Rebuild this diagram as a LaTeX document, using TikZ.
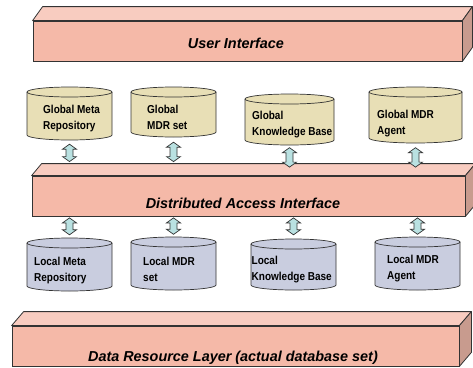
\documentclass[tikz,border=0pt]{standalone}
\usepackage{fontspec}
\setmainfont{Liberation Sans}
\newfontfamily\cylfont[FakeStretch=0.87]{Liberation Sans}
\usetikzlibrary{calc}
\definecolor{barfront}{HTML}{F5B9A8}
\definecolor{bartop}{HTML}{F8CCC0}
\definecolor{barside}{HTML}{C89B8E}
\definecolor{globfill}{HTML}{E8DFB6}
\definecolor{locfill}{HTML}{C9CDDF}
\definecolor{arrfill}{HTML}{B9E1E1}
\definecolor{edge}{HTML}{333333}
\tikzset{
  barbox/.style={draw=edge, line width=0.8pt, fill=barfront, inner sep=0pt, minimum height=40pt},
  bartopface/.style={draw=edge, line width=0.8pt, fill=bartop, line join=round},
  barsideface/.style={draw=edge, line width=0.8pt, fill=barside, line join=round},
  bartext/.style={font=\fontsize{14.4}{17}\selectfont\bfseries\itshape, inner sep=0pt, anchor=base},
  cylbox/.style={inner sep=0pt},
  cylbody/.style={draw=edge, line width=0.7pt},
  cyltext/.style={font=\cylfont\bfseries\fontsize{11.5}{16}\selectfont, align=left, inner sep=0pt, anchor=north west},
  blockarrow/.style={draw=edge, line width=0.7pt, fill=arrfill, line join=miter}
}
% #1 name, #2 left x, #3 right x, #4 top y(px), #5 bottom y(px), #6 fill
\newcommand\dbcyl[6]{%
  \pgfmathsetmacro\cylcx{(#2+#3)/2}%
  \pgfmathsetmacro\cylrx{(#3-#2)/2}%
  \pgfmathsetmacro\cylcy{-(#4+#5)/2}%
  \pgfmathsetmacro\cylw{#3-#2}%
  \pgfmathsetmacro\cylh{#5-#4}%
  \node[cylbox, minimum width=\cylw pt, minimum height=\cylh pt] (#1) at (\cylcx,\cylcy) {};
  \filldraw[cylbody, fill=#6] (#2,{-(#4+5)}) -- (#2,{-(#5-5)})
     arc[start angle=180, end angle=360, x radius=\cylrx, y radius=5]
     -- (#3,{-(#4+5)})
     arc[start angle=0, end angle=180, x radius=\cylrx, y radius=5] -- cycle;
  \draw[cylbody] (#2,{-(#4+5)}) arc[start angle=180, end angle=360, x radius=\cylrx, y radius=5];
}
\newcommand\dblarrow[2]{%
  \draw[blockarrow] (#1) -- ++(-7,-5) -- ++(3.5,0) -- ($(#2)+(-3.5,5)$) -- ++(-3.5,0)
    -- (#2) -- ++(7,5) -- ++(-3.5,0) -- ($(#1)+(3.5,-5)$) -- ++(3.5,0) -- cycle;
}
\begin{document}
\begin{tikzpicture}[x=1pt,y=1pt]
\useasboundingbox (0,0) rectangle (473,-367);
\fill[white] (0,0) rectangle (473,-367);

% ---- User Interface bar
\node[barbox, minimum width=429pt] (ui) at (247.5,-41) {};
\filldraw[bartopface] (ui.north west) -- ++(10,14) -- ($(ui.north east)+(10,14)$) -- (ui.north east) -- cycle;
\filldraw[barsideface] (ui.north east) -- ++(10,14) -- ($(ui.south east)+(10,14)$) -- (ui.south east) -- cycle;
\node[bartext] (uit) at (236,-48.3) {User Interface};

% ---- Distributed Access Interface bar
\node[barbox, minimum width=433pt] (dai) at (248.5,-196) {};
\filldraw[bartopface] (dai.north west) -- ++(10,12) -- ($(dai.north east)+(10,12)$) -- (dai.north east) -- cycle;
\filldraw[barsideface] (dai.north east) -- ++(10,12) -- ($(dai.south east)+(10,12)$) -- (dai.south east) -- cycle;
\node[bartext] (dait) at (243,-208.3) {Distributed Access Interface};

% ---- Data Resource Layer bar
\node[barbox, minimum width=447pt] (drl) at (235.5,-346) {};
\filldraw[bartopface] (drl.north west) -- ++(12,14) -- ($(drl.north east)+(12,14)$) -- (drl.north east) -- cycle;
\filldraw[barsideface] (drl.north east) -- ++(12,14) -- ($(drl.south east)+(12,14)$) -- (drl.south east) -- cycle;
\node[bartext] (drlt) at (233,-361.5) {Data Resource Layer (actual database set)};

% ---- Global cylinders
\dbcyl{g1}{27}{112}{87}{140}{globfill}
\dbcyl{g2}{131}{216}{87}{137}{globfill}
\dbcyl{g3}{245}{334}{94}{145}{globfill}
\dbcyl{g4}{369}{462}{87}{143}{globfill}
\node[cyltext] (g1t) at (43,-104.7) {Global Meta\\Repository};
\node[cyltext] (g2t) at (147,-104.7) {Global\\MDR set};
\node[cyltext] (g3t) at (252,-111) {Global\\Knowledge Base};
\node[cyltext] (g4t) at (377,-110) {Global MDR\\Agent};

% ---- Local cylinders
\dbcyl{l1}{27}{112}{238}{291}{locfill}
\dbcyl{l2}{131}{216}{237}{290}{locfill}
\dbcyl{l3}{251}{336}{239}{290}{locfill}
\dbcyl{l4}{375}{460}{237}{290}{locfill}
\node[cyltext] (l1t) at (34,-256.7) {Local Meta\\Repository};
\node[cyltext] (l2t) at (143,-256.7) {Local MDR\\set};
\node[cyltext] (l3t) at (251.5,-255.7) {Local\\Knowledge Base};
\node[cyltext] (l4t) at (387,-254.7) {Local MDR\\Agent};

% ---- upper arrows
\coordinate (e1) at ($(g1.south |- dai.north)+(0,14)$);
\coordinate (e2) at ($(g2.south |- dai.north)+(0,14)$);
\coordinate (e3) at ($(g3.south |- dai.north)+(0,8.5)$);
\coordinate (e4) at ($(g4.south |- dai.north)+(0,8.5)$);
\coordinate (s1) at ($(g1.south)+(0,-4)$);
\coordinate (s2) at ($(g2.south)+(0,-5)$);
\coordinate (s3) at ($(g3.south)+(0,-2.5)$);
\coordinate (s4) at ($(g4.south)+(0,-4.5)$);
\dblarrow{s1}{e1}
\dblarrow{s2}{e2}
\dblarrow{s3}{e3}
\dblarrow{s4}{e4}

% ---- lower arrows
\coordinate (t1) at ($(dai.south -| l1.north)+(0,-1.5)$);
\coordinate (t2) at ($(dai.south -| l2.north)+(0,-1.5)$);
\coordinate (t3) at ($(dai.south -| l3.north)+(0,-1.5)$);
\coordinate (t4) at ($(dai.south -| l4.north)+(0,-1.5)$);
\coordinate (b1) at ($(l1.north)+(0,3)$);
\coordinate (b2) at ($(l2.north)+(0,2.5)$);
\coordinate (b3) at ($(l3.north)+(0,4)$);
\coordinate (b4) at ($(l4.north)+(0,2.5)$);
\dblarrow{t1}{b1}
\dblarrow{t2}{b2}
\dblarrow{t3}{b3}
\dblarrow{t4}{b4}
\end{tikzpicture}
\end{document}
